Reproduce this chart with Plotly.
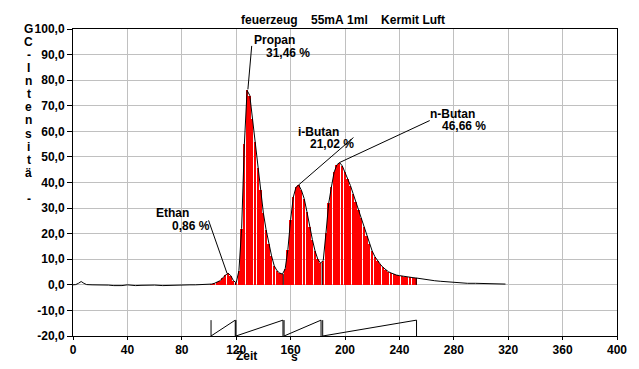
import plotly.graph_objects as go

# ---------------- data ----------------
# chromatogram curve (time in s, GC intensity)
base_t = [0, 2, 4, 6, 8, 10, 14, 20, 26, 30, 36, 40, 46, 50, 56, 60, 66, 70, 76, 80, 86, 90, 96, 98]
base_v = [0.0, 0.1, 0.6, 1.3, 0.6, 0.1, 0.0, 0.0, -0.1, -0.3, -0.3, 0.0, -0.3, -0.2, 0.0, -0.1, -0.3, -0.2, -0.3, 0.0, 0.0, 0.0, 0.1, 0.1]

peak_t = [100, 102, 104, 106, 108, 110, 112, 114, 116, 118, 120, 122, 124, 126, 128, 130,
          132, 134, 136, 138, 140, 142, 144, 146, 148, 150, 152, 154, 156, 158, 160, 162,
          164, 166, 168, 170, 172, 174, 176, 178, 180, 182, 184, 186, 188, 190, 192, 194,
          196, 198, 200, 202, 204, 206, 208, 210, 212, 214, 216, 218, 220, 222, 224, 226,
          228, 230, 232, 234, 236, 238, 240, 242, 244, 246, 248, 250, 252]
peak_v = [0.1, 0.3, 0.6, 1.0, 1.6, 2.6, 3.8, 4.5, 3.6, 1.6, 0.8, 5.5, 22.0, 55.0, 76.0, 74.0,
          65.0, 56.0, 45.5, 37.0, 28.0, 21.5, 15.8, 11.3, 7.4, 5.5, 4.6, 4.2, 6.2, 13.8, 25.4, 34.3,
          38.2, 39.0, 36.9, 33.7, 28.6, 22.8, 17.7, 13.2, 10.0, 8.5, 9.5, 20.2, 31.8, 38.2, 44.0, 46.9,
          47.8, 46.5, 44.0, 41.4, 38.8, 35.6, 32.4, 29.2, 26.0, 22.5, 19.0, 16.0, 13.2, 11.0, 9.3, 8.0,
          6.8, 5.9, 5.1, 4.6, 4.1, 3.8, 3.6, 3.4, 3.2, 3.0, 2.9, 2.8, 2.7]

tail_t = [256, 260, 266, 270, 276, 280, 286, 290, 296, 300, 306, 310, 314, 318]
tail_v = [2.3, 2.0, 1.6, 1.4, 1.1, 1.0, 0.8, 0.6, 0.6, 0.5, 0.4, 0.4, 0.3, 0.3]

# integration windows (start, end) in s, and curve height at the boundaries
win_start = [101.5, 119.8, 155.2, 183.6]
win_end = [119.3, 154.4, 182.4, 252.6]
bound_t = [119.4, 154.6, 183.2, 252.4]
bound_v = [0.8, 4.2, 8.6, 2.7]

# peak labels
names = ["Ethan", "Propan", "i-Butan", "n-Butan"]
percents = ["0,86 %", "31,46 %", "21,02 %", "46,66 %"]
apex_t = [113.2, 128.6, 165.8, 196.0]
apex_v = [4.6, 76.4, 39.0, 47.8]

x_ticks = [0, 40, 80, 120, 160, 200, 240, 280, 320, 360, 400]
y_ticks = [-20, -10, 0, 10, 20, 30, 40, 50, 60, 70, 80, 90, 100]
y_ticktext = ["-20,0", "-10,0", "0,0", "10,0", "20,0", "30,0", "40,0", "50,0",
              "60,0", "70,0", "80,0", "90,0", "100,0"]

title_text = "feuerzeug    55mA 1ml    Kermit Luft"
ylabel_chars = ["G", "C", "-", "I", "n", "t", "e", "n", "s", "i", "t", "ä", "", "-"]

# ---------------- geometry helpers ----------------
W, H = 639, 369
L, R, T, B = 73, 620, 28.5, 341
X0, X1, Y0, Y1 = 0, 400, -20, 100


def px2x(px):
    return X0 + (px - L) / (R - L) * (X1 - X0)


def py2y(py):
    return Y0 + (B - py) / (B - T) * (Y1 - Y0)


def py2paper(py):
    return (B - py) / (B - T)


def px2paper(px):
    return (px - L) / (R - L)


FONT = "Arial, Liberation Sans, sans-serif"


def f(size=12):
    return dict(family=FONT, size=size, color="black", weight="bold")


fig = go.Figure()

# red sticks (integrated area)
bar_t = [t for t in peak_t if 102 <= t <= 252]
bar_v = [v for t, v in zip(peak_t, peak_v) if 102 <= t <= 252]
fig.add_trace(go.Bar(x=bar_t, y=bar_v, width=1.35, marker=dict(color="#FF0000", line=dict(width=0)),
                     hoverinfo="skip"))

# boundary drop lines
dx, dy = [], []
for t, v in zip(bound_t, bound_v):
    dx += [t, t, None]
    dy += [0, v, None]
fig.add_trace(go.Scatter(x=dx, y=dy, mode="lines", line=dict(color="black", width=1), hoverinfo="skip"))

# curve
curve_t = base_t + peak_t + tail_t
curve_v = base_v + peak_v + tail_v
fig.add_trace(go.Scatter(x=curve_t, y=curve_v, mode="lines", line=dict(color="black", width=1),
                         hoverinfo="skip"))

# integration markers (sawtooth)
low, high = -20, -13.8
mx, my = [], []
for s, e in zip(win_start, win_end):
    mx += [s, s, None, s, e, None, e, e, None]
    my += [low, high, None, low, high, None, low, high, None]
fig.add_trace(go.Scatter(x=mx, y=my, mode="lines", line=dict(color="black", width=1), hoverinfo="skip"))

# label leader lines
label_anchor_px = [(209.3, 223.3), (252.7, 45.7), (355.0, 139.0), (431.7, 121.7)]
lx, ly = [], []
for (ax, ay), t, v in zip(label_anchor_px, apex_t, apex_v):
    lx += [px2x(ax), t, None]
    ly += [py2y(ay), v, None]
fig.add_trace(go.Scatter(x=lx, y=ly, mode="lines", line=dict(color="black", width=1), hoverinfo="skip"))

annotations = []
# label texts: (name left px, name center py, pct left px, pct center py)
label_pos = [(154, 215.5, 170.5, 229), (252.5, 40, 265, 52.5), (297, 133, 309.5, 146), (430, 115, 442, 127.5)]
for (nx, ny, qx, qy), n, p in zip(label_pos, names, percents):
    annotations.append(dict(x=px2x(nx), y=py2y(ny), xref="x", yref="y", text=n, showarrow=False,
                            xanchor="left", yanchor="middle", font=f()))
    annotations.append(dict(x=px2x(qx), y=py2y(qy), xref="x", yref="y", text=p, showarrow=False,
                            xanchor="left", yanchor="middle", font=f()))

# title
annotations.append(dict(x=px2paper(344), y=py2paper(19.5), xref="paper", yref="paper",
                        text=title_text.replace(" ", "&nbsp;"), showarrow=False, xanchor="center",
                        yanchor="middle", font=f()))

# vertical stacked y-axis label
for i, ch in enumerate(ylabel_chars):
    if ch == "":
        continue
    annotations.append(dict(x=px2paper(28.5), y=py2paper(28.5 + i * 13.3), xref="paper", yref="paper",
                            text=ch, showarrow=False, xanchor="center", yanchor="middle", font=f()))

# x-axis title pieces
annotations.append(dict(x=px2paper(247), y=py2paper(361), xref="paper", yref="paper", text="Zeit",
                        showarrow=False, xanchor="center", yanchor="middle", font=f()))
annotations.append(dict(x=px2paper(296), y=py2paper(362), xref="paper", yref="paper", text="s",
                        showarrow=False, xanchor="center", yanchor="middle", font=f()))

fig.update_layout(
    width=W, height=H,
    margin=dict(l=L, r=W - R, t=T, b=H - B, pad=0),
    paper_bgcolor="white", plot_bgcolor="white",
    showlegend=False, bargap=0,
    annotations=annotations,
    xaxis=dict(range=[X0, X1], tickvals=x_ticks, ticktext=[str(v) for v in x_ticks],
               showgrid=True, gridcolor="#C0C0C0", gridwidth=1, zeroline=False,
               showline=True, linecolor="black", linewidth=1, mirror=True,
               ticks="outside", ticklen=3, tickcolor="black", tickfont=f()),
    yaxis=dict(range=[Y0, Y1], tickvals=y_ticks, ticktext=y_ticktext,
               showgrid=True, gridcolor="#C0C0C0", gridwidth=1, zeroline=False,
               showline=True, linecolor="black", linewidth=1, mirror=True,
               ticks="outside", ticklen=5, tickcolor="black", tickfont=f()),
)

fig.write_html("out.html", config={"displayModeBar": False},
               post_script="document.body.style.margin='0';document.body.style.overflow='hidden';")
